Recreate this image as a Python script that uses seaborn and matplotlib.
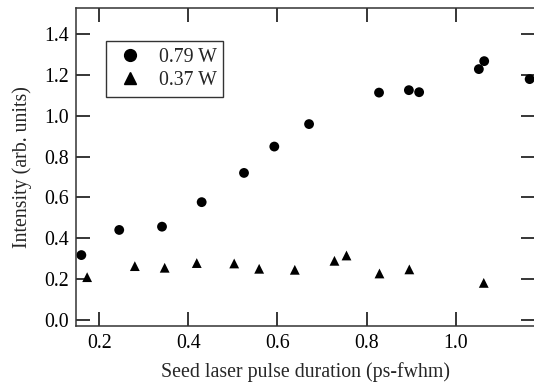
import matplotlib
matplotlib.use("Agg")
import matplotlib.pyplot as plt
import seaborn as sns
import pandas as pd

# data
x_high = [0.160, 0.245, 0.341, 0.430, 0.525, 0.593, 0.671, 0.828, 0.895, 0.918, 1.052, 1.064, 1.166]
y_high = [0.318, 0.441, 0.457, 0.577, 0.720, 0.849, 0.959, 1.113, 1.125, 1.115, 1.228, 1.267, 1.179]
x_low = [0.173, 0.280, 0.347, 0.419, 0.503, 0.559, 0.639, 0.728, 0.755, 0.829, 0.896, 1.063]
y_low = [0.210, 0.264, 0.256, 0.279, 0.277, 0.251, 0.246, 0.290, 0.316, 0.228, 0.248, 0.182]
labels = ["0.79 W", "0.37 W"]
x_ticks = [0.2, 0.4, 0.6, 0.8, 1.0]
y_ticks = [0.0, 0.2, 0.4, 0.6, 0.8, 1.0, 1.2, 1.4]

sns.set_theme(style="ticks")
plt.rcParams['font.family'] = ['Liberation Serif', 'DejaVu Serif']

df = pd.DataFrame({
    "x": x_high + x_low,
    "y": y_high + y_low,
    "series": [labels[0]] * len(x_high) + [labels[1]] * len(x_low),
})

FS = 14.3

fig = plt.figure(figsize=(5.34, 3.85), dpi=100)
ax = fig.add_axes([76 / 534, 1 - 326 / 385, (535 - 76) / 534, (326 - 8) / 385])

sns.scatterplot(data=df, x="x", y="y", style="series", style_order=labels,
                markers={labels[0]: "o", labels[1]: "^"}, color="black",
                s=50, edgecolor="none", linewidth=0, ax=ax, legend=False)

ax.set_xlim(0.148, 1.178)
ax.set_ylim(-0.029, 1.527)
ax.set_xticks(x_ticks)
ax.set_yticks(y_ticks)
ax.set_xticklabels([f"{v:.1f}" for v in x_ticks])
ax.set_yticklabels([f"{v:.1f}" for v in y_ticks])
ax.tick_params(direction="in", length=10, width=1.1, top=True, right=True,
               labelsize=FS, colors="black", pad=5)
ax.tick_params(axis="x", pad=6)
for sp in ax.spines.values():
    sp.set_linewidth(1.1)
    sp.set_color("#333333")

ax.set_xlabel("Seed laser pulse duration (ps-fwhm)", fontsize=FS, labelpad=6.5)
ax.set_ylabel("Intensity (arb. units)", fontsize=FS, labelpad=9)

from matplotlib.lines import Line2D
handles = [Line2D([], [], marker="o", color="black", linestyle="none", markersize=8.5),
           Line2D([], [], marker="^", color="black", linestyle="none", markersize=8.5)]
leg = ax.legend(handles, labels, loc="upper left", bbox_to_anchor=((106 - 76) / 459, (326 - 41) / 318),
                frameon=True, fancybox=False, edgecolor="black", fontsize=FS,
                handletextpad=0.6, borderpad=0.35, labelspacing=0.2, handlelength=1.7,
                borderaxespad=0)
leg.get_frame().set_linewidth(1)

fig.savefig("out.png", dpi=100)
